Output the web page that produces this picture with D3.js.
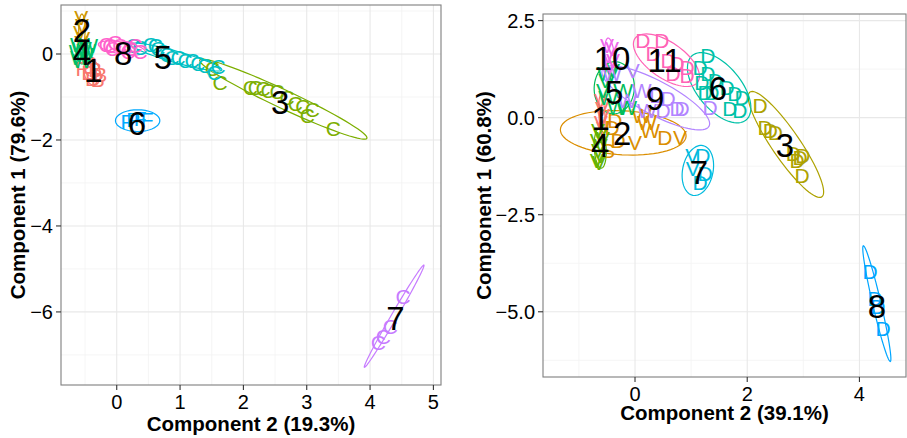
<!DOCTYPE html>
<html><head><meta charset="utf-8">
<script src="https://cdn.jsdelivr.net/npm/d3@7"></script>
<style>
body{margin:0;background:#fff}
text{font-family:"Liberation Sans",Arial,Helvetica,sans-serif}
</style>
</head><body><svg id="c" width="907" height="438"></svg>
<script>
// ---------- LEFT PANEL DATA ----------
const leftColors = ["#F8766D","#CD9600","#7CAE00","#00BE67","#00BFC4","#00A9FF","#C77CFF","#FF61CC"];
const leftXTicks = [0,1,2,3,4,5];
const leftYTicks = [0,-2,-4,-6];
const leftXMinor = [-0.5,0.5,1.5,2.5,3.5,4.5];
const leftYMinor = [1,-1,-3,-5,-7];
const leftXTitle = "Component 2 (19.3%)";
const leftYTitle = "Component 1 (79.6%)";
const leftPtGroup = [1,1,1,1,1,1,1, 2,2,2,2,2, 3,3,3,3,3,3,3,3,3,3,3,3,3, 4,4,4,4,4,4,4,4, 5,5,5,5,5,5,5,5,5,5,5,5,5,5,5, 6,6,6,6, 7,7,7,7, 8,8,8,8,8,8,8,8,8,8];
const leftPtText  = ["R","B","B","B","B","B","R", "V","V","V","V","V", "C","C","C","C","C","C","C","C","C","C","C","C","C", "W","W","W","W","W","W","W","W", "C","C","C","C","C","C","C","C","C","C","C","C","C","C","C", "F","P","F","F", "C","C","C","C", "C","C","C","C","C","C","C","C","C","C"];
const leftPtX = [-0.53,-0.45,-0.34,-0.26,-0.39,-0.30,-0.42, -0.56,-0.55,-0.58,-0.53,-0.56, 1.51,1.63,2.11,2.19,2.31,2.39,2.53,2.69,2.82,2.94,3.01,3.09,3.42, -0.58,-0.55,-0.60,-0.52,-0.58,-0.48,-0.45,-0.55, 0.26,0.37,0.53,0.61,0.65,0.72,0.79,0.87,0.97,1.08,1.19,1.28,1.39,1.54,1.60, 0.16,0.26,0.37,0.48, 4.13,4.21,4.32,4.52, -0.17,-0.11,-0.03,0.05,0.13,0.21,0.29,0.37,-0.07,0.18];
const leftPtY = [-0.33,-0.42,-0.37,-0.47,-0.56,-0.60,-0.23, 0.84,0.67,0.51,0.37,0.28, -0.33,-0.67,-0.77,-0.77,-0.81,-0.84,-0.88,-1.00,-1.14,-1.23,-1.42,-1.30,-1.72, 0.23,0.14,0.05,-0.02,-0.09,0.09,0.19,-0.14, 0.19,0.16,0.23,0.19,0.12,0.05,0.00,-0.07,-0.07,-0.14,-0.14,-0.21,-0.26,-0.42,-0.28, -1.56,-1.53,-1.49,-1.53, -6.70,-6.56,-6.33,-5.65, 0.23,0.19,0.26,0.21,0.16,0.14,0.19,0.05,0.12,0.05];
const leftLabelText = ["1","2","3","4","5","6","7","8"];
const leftLabelX = [-0.37,-0.55,2.58,-0.55,0.73,0.32,4.40,0.10];
const leftLabelY = [-0.37,0.56,-1.11,0.02,-0.07,-1.60,-6.14,0.02];
const leftEllCx = [-0.39,-0.55,2.63,-0.55,0.94,0.33,4.38,0.08];
const leftEllCy = [-0.42,0.56,-1.05,0.05,-0.07,-1.55,-6.10,0.14];
const leftEllEx = [-0.34,-0.55,3.95,-0.55,1.66,0.68,4.85,0.45];
const leftEllEy = [-0.72,0.93,-1.96,0.33,-0.37,-1.55,-4.91,0.05];
const leftEllRatio = [0.6,0.2,0.1,0.4,0.12,0.49,0.05,0.25];

// ---------- RIGHT PANEL DATA ----------
const rightColors = ["#F8766D","#DB8E00","#AEA200","#64B200","#00BD5C","#00C1A7","#00BADE","#00A6FF","#B385FF","#EF67EB","#FF63B6"];
const rightXTicks = [0,2,4];
const rightYTicks = [2.5,0,-2.5,-5];
const rightXMinor = [-1,1,3];
const rightYMinor = [1.25,-1.25,-3.75,-6.25];
const rightXTitle = "Component 2 (39.1%)";
const rightYTitle = "Component 1 (60.8%)";
const rightPtGroup = [1,1,1,1,1, 2,2,2,2,2,2,2,2,2,2, 3,3,3,3,3,3,3,3,3, 4,4,4,4,4,4,4,4,4, 5,5,5,5,5,5,5,5, 6,6,6,6,6,6,6,6,6,6,6,6, 7,7,7,7,7, 8,8,8,8, 9,9,9,9,9,9,9,9,9,9,9, 10,10,10,10,10, 11,11,11,11,11,11,11,11];
const rightPtText = ["V","V","V","V","V", "D","D","S","V","W","W","W","D","V","D", "D","D","D","D","D","D","D","D","D", "V","V","V","V","V","V","V","V","V", "W","V","W","W","W","W","V","V", "D","D","D","D","D","D","D","D","D","D","D","D", "V","D","V","D","D", "D","D","D","D", "W","V","W","D","D","D","D","D","D","W","W", "V","V","V","V","V", "D","D","D","D","D","D","D","D"];
const rightPtX = [-0.61,-0.59,-0.57,-0.61,-0.57, -0.36,-0.41,-0.48,0.00,0.12,0.21,0.27,0.53,0.80,-0.30, 2.23,2.32,2.41,2.50,2.82,2.94,2.99,2.89,2.98, -0.66,-0.62,-0.68,-0.61,-0.66,-0.62,-0.68,-0.64,-0.57, -0.50,-0.39,-0.48,-0.32,-0.14,-0.21,-0.57,-0.53, 1.30,1.16,1.30,1.19,1.25,1.43,1.37,1.64,1.78,1.91,1.69,1.87, 1.02,1.21,1.03,1.25,1.16, 4.19,4.28,4.33,4.42, -0.41,-0.04,0.12,0.39,0.59,0.75,0.84,0.50,1.34,-0.14,0.21, -0.50,-0.41,-0.48,-0.39,-0.45, 0.14,0.48,0.59,0.75,0.93,0.68,0.93,0.32];
const rightPtY = [0.45,0.24,0.06,-0.12,-0.28, -0.07,-0.25,-0.85,-0.64,0.06,-0.12,-0.33,-0.51,-0.51,-0.59, 0.32,-0.25,-0.33,-0.38,-0.92,-1.03,-0.97,-1.10,-1.49, -0.33,-0.46,-0.59,-0.72,-0.85,-0.97,-1.10,-1.16,-0.54, 1.15,1.22,0.52,0.27,0.27,0.71,0.71,0.96, 1.61,1.30,1.15,0.91,0.65,0.96,0.65,0.78,0.63,0.52,0.24,0.19, -0.97,-0.97,-1.31,-1.44,-1.67, -3.95,-4.65,-4.86,-5.42, 1.15,1.22,0.71,0.58,0.50,0.24,0.24,0.19,0.27,0.45,0.19, 1.87,1.79,1.61,1.48,1.35, 2.00,2.00,1.48,1.40,1.30,1.15,1.09,1.66];
const rightLabelText = ["1","2","3","4","5","6","7","8","9","10","11"];
const rightLabelX = [-0.61,-0.23,2.67,-0.62,-0.37,1.48,1.14,4.31,0.36,-0.41,0.53];
const rightLabelY = [-0.02,-0.41,-0.72,-0.72,0.65,0.76,-1.41,-4.85,0.50,1.53,1.48];
const rightEllCx = [-0.59,-0.21,2.69,-0.62,-0.37,1.50,1.12,4.31,0.37,-0.45,0.56];
const rightEllCy = [0.06,-0.39,-0.69,-0.79,0.77,0.77,-1.36,-4.79,0.51,1.56,1.48];
const rightEllEx = [-0.61,0.91,3.33,-0.64,-0.34,1.98,1.21,4.07,1.32,-0.48,1.12];
const rightEllEy = [0.58,-0.48,-2.04,-0.28,1.44,-0.06,-0.72,-3.30,-0.22,2.05,0.92];
const rightEllRatio = [0.15,0.35,0.22,0.3,0.77,0.52,0.6,0.07,0.28,0.25,0.47];

const svg = d3.select("#c");

function drawPanel(o){
  const x = d3.scaleLinear().domain(o.xDomain).range([o.left, o.right]);
  const y = d3.scaleLinear().domain(o.yDomain).range([o.bottom, o.top]);
  const g = svg.append("g");
  g.append("rect").attr("x",o.left).attr("y",o.top).attr("width",o.right-o.left).attr("height",o.bottom-o.top).attr("fill","#fff");
  g.selectAll(".mx").data(o.xMinor).enter().append("line")
    .attr("x1",d=>x(d)).attr("x2",d=>x(d)).attr("y1",o.top).attr("y2",o.bottom)
    .attr("stroke","#f3f3f3").attr("stroke-width",0.8);
  g.selectAll(".my").data(o.yMinor).enter().append("line")
    .attr("y1",d=>y(d)).attr("y2",d=>y(d)).attr("x1",o.left).attr("x2",o.right)
    .attr("stroke","#f3f3f3").attr("stroke-width",0.8);
  g.selectAll(".gx").data(o.xTicks).enter().append("line")
    .attr("x1",d=>x(d)).attr("x2",d=>x(d)).attr("y1",o.top).attr("y2",o.bottom)
    .attr("stroke","#e8e8e8").attr("stroke-width",1.1);
  g.selectAll(".gy").data(o.yTicks).enter().append("line")
    .attr("y1",d=>y(d)).attr("y2",d=>y(d)).attr("x1",o.left).attr("x2",o.right)
    .attr("stroke","#e8e8e8").attr("stroke-width",1.1);

  const line = d3.line().curve(d3.curveLinearClosed);
  o.ellCx.forEach((cx,i)=>{
    const c=[x(cx),y(o.ellCy[i])], e=[x(o.ellEx[i]),y(o.ellEy[i])];
    const a=[e[0]-c[0],e[1]-c[1]], r=o.ellRatio[i];
    const b=[-a[1]*r,a[0]*r];
    const pts=d3.range(0,72).map(k=>{const t=k/72*2*Math.PI;
      return [c[0]+a[0]*Math.cos(t)+b[0]*Math.sin(t), c[1]+a[1]*Math.cos(t)+b[1]*Math.sin(t)];});
    g.append("path").attr("d",line(pts)).attr("fill","none")
      .attr("stroke",o.colors[i]).attr("stroke-width",1.2);
  });

  g.selectAll(".pt").data(o.ptX.map((v,i)=>i)).enter().append("text")
    .attr("x",i=>x(o.ptX[i])).attr("y",i=>y(o.ptY[i])).attr("dy","0.36em")
    .attr("text-anchor","middle").attr("font-size",21)
    .attr("fill",i=>o.colors[o.ptGroup[i]-1]).text(i=>o.ptText[i]);

  g.selectAll(".lb").data(o.labelText).enter().append("text")
    .attr("x",(d,i)=>x(o.labelX[i])).attr("y",(d,i)=>y(o.labelY[i])).attr("dy","0.36em")
    .attr("text-anchor","middle").attr("font-size",33).attr("fill","#000").text(d=>d);

  g.append("rect").attr("x",o.left).attr("y",o.top).attr("width",o.right-o.left).attr("height",o.bottom-o.top)
    .attr("fill","none").attr("stroke","#7f7f7f").attr("stroke-width",1.1);

  g.selectAll(".tx").data(o.xTicks).enter().append("line")
    .attr("x1",d=>x(d)).attr("x2",d=>x(d)).attr("y1",o.bottom).attr("y2",o.bottom+5)
    .attr("stroke","#333").attr("stroke-width",1.1);
  g.selectAll(".ty").data(o.yTicks).enter().append("line")
    .attr("y1",d=>y(d)).attr("y2",d=>y(d)).attr("x1",o.left-5).attr("x2",o.left)
    .attr("stroke","#333").attr("stroke-width",1.1);
  g.selectAll(".txl").data(o.xTicks).enter().append("text")
    .attr("x",d=>x(d)).attr("y",o.bottom+24).attr("text-anchor","middle")
    .attr("font-size",20).attr("fill","#000").text(d=>o.xFmt(d));
  g.selectAll(".tyl").data(o.yTicks).enter().append("text")
    .attr("x",o.left-8).attr("y",d=>y(d)).attr("dy","0.36em").attr("text-anchor","end")
    .attr("font-size",20).attr("fill","#000").text(d=>o.yFmt(d));
  g.append("text").attr("x",(o.left+o.right)/2).attr("y",o.xTitleY).attr("text-anchor","middle")
    .attr("font-size",20.5).attr("font-weight","bold").text(o.xTitle);
  g.append("text").attr("transform",`translate(${o.yTitleX},${(o.top+o.bottom)/2}) rotate(-90)`)
    .attr("text-anchor","middle").attr("font-size",20.5).attr("font-weight","bold").text(o.yTitle);
}

const minus = s => s.replace("-","\u2212");

drawPanel({
  left:61,right:441,top:5,bottom:385,
  xDomain:[-0.88,5.12], yDomain:[-7.7,1.14],
  xTicks:leftXTicks, yTicks:leftYTicks, xMinor:leftXMinor, yMinor:leftYMinor,
  xFmt:d=>minus(String(d)), yFmt:d=>minus(String(d)),
  colors:leftColors, ptGroup:leftPtGroup, ptText:leftPtText, ptX:leftPtX, ptY:leftPtY,
  labelText:leftLabelText, labelX:leftLabelX, labelY:leftLabelY,
  ellCx:leftEllCx, ellCy:leftEllCy, ellEx:leftEllEx, ellEy:leftEllEy, ellRatio:leftEllRatio,
  xTitle:leftXTitle, yTitle:leftYTitle, xTitleY:431, yTitleX:25
});
drawPanel({
  left:543,right:906,top:14,bottom:377,
  xDomain:[-1.64,4.83], yDomain:[-6.68,2.67],
  xTicks:rightXTicks, yTicks:rightYTicks, xMinor:rightXMinor, yMinor:rightYMinor,
  xFmt:d=>minus(String(d)), yFmt:d=>minus(d3.format(".1f")(d)),
  colors:rightColors, ptGroup:rightPtGroup, ptText:rightPtText, ptX:rightPtX, ptY:rightPtY,
  labelText:rightLabelText, labelX:rightLabelX, labelY:rightLabelY,
  ellCx:rightEllCx, ellCy:rightEllCy, ellEx:rightEllEx, ellEy:rightEllEy, ellRatio:rightEllRatio,
  xTitle:rightXTitle, yTitle:rightYTitle, xTitleY:420, yTitleX:491
});
</script></body></html>
